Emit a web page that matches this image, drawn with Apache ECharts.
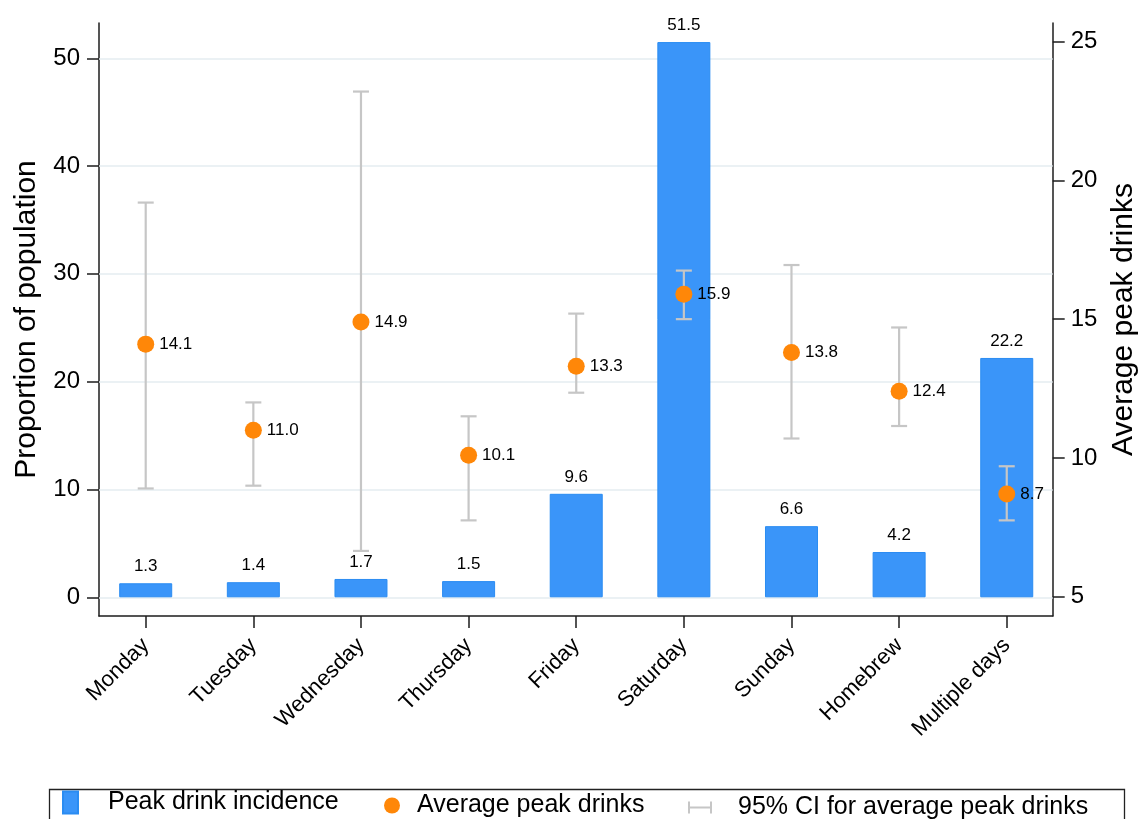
<!DOCTYPE html>
<html>
<head>
<meta charset="utf-8">
<title>Peak drink incidence by day</title>
<script src="https://cdn.jsdelivr.net/npm/echarts@6/dist/echarts.min.js"></script>
<style>
  html, body { margin: 0; padding: 0; background: #ffffff; }
  #chart { width: 1140px; height: 819px; }
</style>
</head>
<body>
<div id="chart"></div>
<script>
// Categories along the x axis
const categories = ['Monday', 'Tuesday', 'Wednesday', 'Thursday', 'Friday', 'Saturday', 'Sunday', 'Homebrew', 'Multiple days'];
// Share of the population whose peak drinking falls on each category (%)
const incidence = [1.3, 1.4, 1.7, 1.5, 9.6, 51.5, 6.6, 4.2, 22.2];
// Average number of drinks on the peak occasion
const avgDrinks = [14.1, 11.0, 14.9, 10.1, 13.3, 15.9, 13.8, 12.4, 8.7];
// 95% confidence interval bounds for the average
const ciLow  = [8.9, 9.0, 6.65, 7.75, 12.35, 15.0, 10.7, 11.15, 7.75];
const ciHigh = [19.2, 12.0, 23.2, 11.5, 15.2, 16.75, 16.95, 14.7, 9.7];
// Tick labels
const leftTicks = [0, 10, 20, 30, 40, 50];
const rightTicks = [5, 10, 15, 20, 25];

const FONT = '"Liberation Sans", Arial, Helvetica, sans-serif';
const AXIS_COLOR = '#1c1c1c';
const BAR_COLOR = '#3a95f9';
const BAR_EDGE = '#2a8cf2';
const DOT_COLOR = '#ff8708';
const CI_COLOR = '#c6c6c6';
const GRID_COLOR = '#e4edf1';

const idx = categories.map((_, i) => i);

const chart = echarts.init(document.getElementById('chart'), null, { renderer: 'canvas' });

const option = {
  backgroundColor: '#ffffff',
  animation: false,
  textStyle: { fontFamily: FONT, color: '#000' },
  grid: { left: 99, right: 87.3, top: 23, bottom: 203, containLabel: false, outerBoundsMode: 'none' },
  xAxis: {
    type: 'value',
    min: -0.434,
    max: 8.427,
    axisLine: { show: true, onZero: false, lineStyle: { color: AXIS_COLOR, width: 1.5 } },
    axisTick: { show: true, customValues: idx, length: 12, inside: false, lineStyle: { color: AXIS_COLOR, width: 1.5 } },
    axisLabel: {
      customValues: idx,
      formatter: v => categories[Math.round(v)],
      rotate: 45,
      margin: 26,
      fontSize: 22,
      color: '#000',
      fontFamily: FONT
    },
    splitLine: { show: false }
  },
  yAxis: [
    {
      type: 'value',
      position: 'left',
      min: -1.735,
      max: 53.27,
      name: 'Proportion of population',
      nameLocation: 'middle',
      nameRotate: 90,
      nameGap: 57,
      nameTextStyle: { fontSize: 30, color: '#000', fontFamily: FONT },
      axisLine: { show: true, onZero: false, lineStyle: { color: AXIS_COLOR, width: 1.5 } },
      axisTick: { show: true, customValues: leftTicks, length: 12, lineStyle: { color: AXIS_COLOR, width: 1.5 } },
      axisLabel: { customValues: leftTicks, margin: 19, fontSize: 24, color: '#000', fontFamily: FONT },
      splitLine: { show: false }
    },
    {
      type: 'value',
      position: 'right',
      min: 4.305,
      max: 25.67,
      name: 'Average peak drinks',
      nameLocation: 'middle',
      nameRotate: 90,
      nameGap: 56,
      nameTextStyle: { fontSize: 30, color: '#000', fontFamily: FONT },
      axisLine: { show: true, onZero: false, lineStyle: { color: AXIS_COLOR, width: 1.5 } },
      axisTick: { show: true, customValues: rightTicks, length: 12, lineStyle: { color: AXIS_COLOR, width: 1.5 } },
      axisLabel: { customValues: rightTicks, margin: 18, fontSize: 24, color: '#000', fontFamily: FONT },
      splitLine: { show: false }
    }
  ],
  legend: [
    {
      data: [{ name: 'Peak drink incidence', icon: 'rect' }],
      left: 62, top: 790, padding: 0,
      itemWidth: 15, itemHeight: 22,
      selectedMode: false,
      textStyle: { fontSize: 25, color: '#000', fontFamily: FONT, padding: [0, 0, 0, 25] }
    },
    {
      data: [{ name: 'Average peak drinks', icon: 'circle' }],
      left: 384, top: 793, padding: 0,
      itemWidth: 16, itemHeight: 16,
      selectedMode: false,
      textStyle: { fontSize: 25, color: '#000', fontFamily: FONT, padding: [0, 0, 0, 12] }
    },
    {
      data: [{
        name: '95% CI for average peak drinks',
        icon: 'path://M0,0h2v12h-2z M2,5h20v2h-20z M22,0h2v12h-2z',
        itemStyle: { color: CI_COLOR }
      }],
      left: 688, top: 795, padding: 0,
      itemWidth: 24, itemHeight: 12,
      selectedMode: false,
      textStyle: { fontSize: 25, color: '#000', fontFamily: FONT, padding: [0, 0, 0, 21] }
    }
  ],
  graphic: [
    {
      type: 'rect',
      left: 47, top: 787,
      shape: { width: 1075, height: 60 },
      style: { fill: 'none', stroke: '#222', lineWidth: 1.3 },
      silent: true
    }
  ],
  series: [
    {
      name: 'Peak drink incidence',
      type: 'bar',
      xAxisIndex: 0,
      yAxisIndex: 0,
      barWidth: 53,
      z: 2,
      data: incidence.map((v, i) => [i, v]),
      itemStyle: { color: BAR_COLOR, borderColor: BAR_EDGE, borderWidth: 1 },
      label: {
        show: true,
        position: 'top',
        distance: 8,
        fontSize: 17,
        color: '#000',
        fontFamily: FONT,
        formatter: p => p.value[1].toFixed(1)
      },
      markLine: {
        silent: true,
        symbol: 'none',
        z: 1,
        label: { show: false },
        emphasis: { disabled: true },
        lineStyle: { color: GRID_COLOR, width: 1.5, type: 'solid' },
        data: leftTicks.map(v => ({ yAxis: v }))
      }
    },
    {
      name: '95% CI for average peak drinks',
      type: 'custom',
      xAxisIndex: 0,
      yAxisIndex: 1,
      z: 3,
      itemStyle: { color: CI_COLOR },
      encode: { x: 0, y: [1, 2] },
      data: idx.map(i => [i, ciLow[i], ciHigh[i]]),
      renderItem: (params, api) => {
        const x = api.value(0);
        const lo = api.coord([x, api.value(1)]);
        const hi = api.coord([x, api.value(2)]);
        const cap = 8;
        const style = { stroke: CI_COLOR, lineWidth: 2.2 };
        return {
          type: 'group',
          children: [
            { type: 'line', shape: { x1: lo[0], y1: lo[1], x2: hi[0], y2: hi[1] }, style },
            { type: 'line', shape: { x1: hi[0] - cap, y1: hi[1], x2: hi[0] + cap, y2: hi[1] }, style },
            { type: 'line', shape: { x1: lo[0] - cap, y1: lo[1], x2: lo[0] + cap, y2: lo[1] }, style }
          ]
        };
      }
    },
    {
      name: 'Average peak drinks',
      type: 'scatter',
      xAxisIndex: 0,
      yAxisIndex: 1,
      z: 4,
      symbol: 'circle',
      symbolSize: 17,
      data: avgDrinks.map((v, i) => [i, v]),
      itemStyle: { color: DOT_COLOR, opacity: 1 },
      label: {
        show: true,
        position: 'right',
        distance: 5,
        fontSize: 17,
        color: '#000',
        fontFamily: FONT,
        formatter: p => p.value[1].toFixed(1)
      }
    }
  ]
};

chart.setOption(option);
</script>
</body>
</html>
